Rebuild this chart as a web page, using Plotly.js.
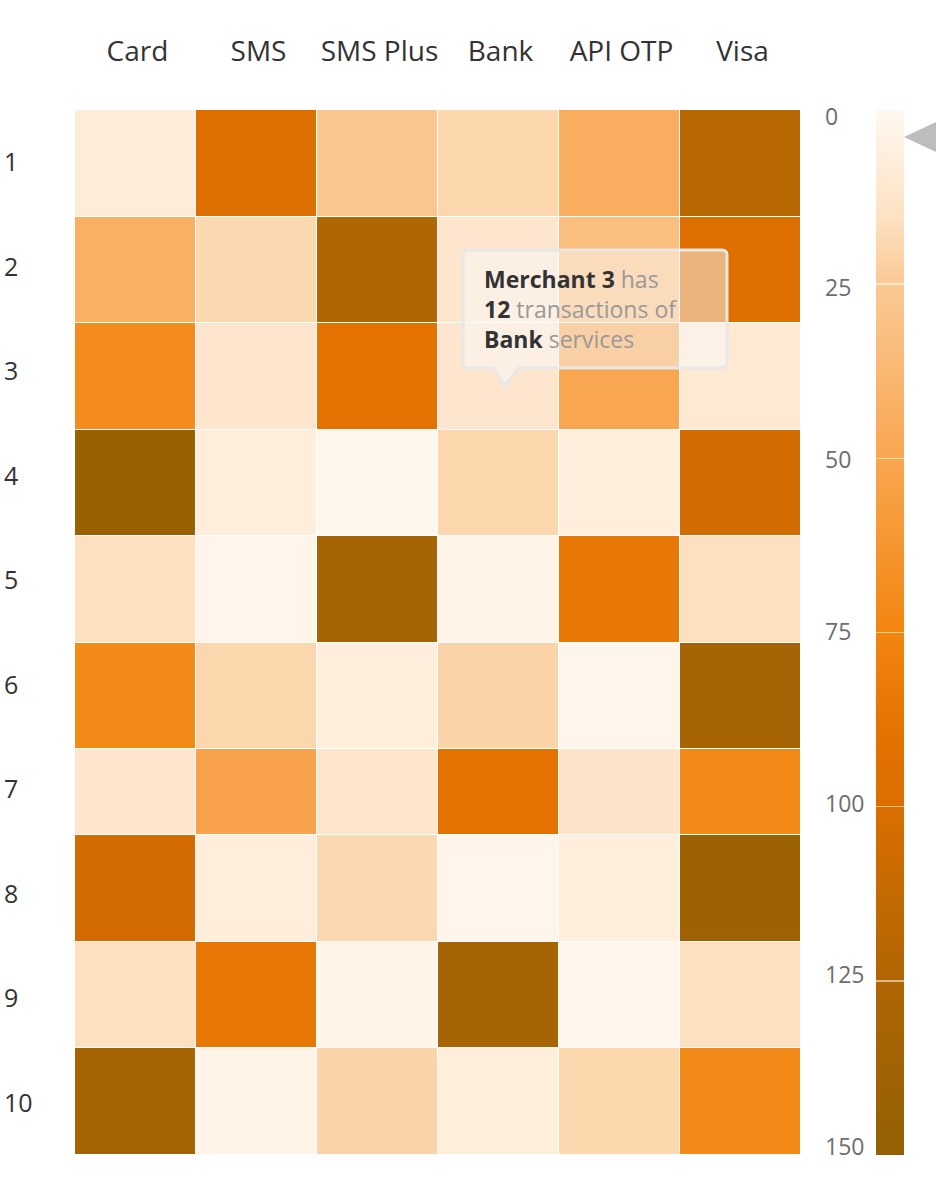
<!DOCTYPE html>
<html>
<head>
<meta charset="utf-8">
<script src="https://cdn.plot.ly/plotly-3.0.1.min.js"></script>
<style>
html,body{margin:0;padding:0;background:#fff;}
#chart{width:936px;height:1178px;}
</style>
</head>
<body>
<div id="chart"></div>
<script>
// ---------- data ----------
const services = ['Card', 'SMS', 'SMS Plus', 'Bank', 'API OTP', 'Visa'];
const merchants = ['1', '2', '3', '4', '5', '6', '7', '8', '9', '10'];
const transactions = [
  [8,   97,  27,  20,  45,  120],
  [43,  19,  125, 12,  33,  98],
  [70,  12,  90,  12,  50,  10],
  [145, 7,   1,   20,  7,   105],
  [16,  2,   133, 3,   85,  16],
  [72,  20,  7,   21,  2,   133],
  [12,  52,  13,  90,  14,  72],
  [105, 7,   19,  2,   7,   140],
  [16,  85,  3,   133, 2,   16],
  [133, 3,   21,  7,   20,  72]
];
const colorTicks = [0, 25, 50, 75, 100, 125, 150];
const colorGridTicks = [25, 50, 75, 100, 125];
const colorMin = 0;
const colorMax = 150;
const hoverMerchant = '3';
const hoverService = 'Bank';
const markerValue = 3;

// ---------- layout geometry / style ----------
const W = 936, H = 1178;
const M = {l: 75, r: 135, t: 110, b: 23, autoexpand: false};
const plotW = W - M.l - M.r;
const paperX = px => (px - M.l) / plotW;
const rowWeights = [1, 1, 1, 1, 1, 1, 0.81, 1, 1, 1];
const wSum = rowWeights.reduce((a, b) => a + b, 0);
const yEdges = [-0.5];
rowWeights.forEach(w => yEdges.push(yEdges[yEdges.length - 1] + w * merchants.length / wSum));

const colorscale = [
  [0.0,   '#FFF8F0'],
  [0.1,   '#FDE2C4'],
  [0.1667,'#FAC995'],
  [0.3333,'#F9A650'],
  [0.5,   '#F2850F'],
  [0.6,   '#E37200'],
  [0.6667,'#DA6E00'],
  [0.8333,'#B06604'],
  [1.0,   '#946003']
];
// colour bar is drawn with low values at the top
const colorscaleFlipped = colorscale.map(([p, c]) => [1 - p, c]).reverse();

const FONT = '"Open Sans", "Noto Sans", sans-serif';

const mi = merchants.indexOf(hoverMerchant);
const si = services.indexOf(hoverService);
const hoverValue = transactions[mi][si];

const heat = {
  type: 'heatmap',
  z: transactions,
  x: services.map((_, i) => i),
  y: yEdges,
  zmin: colorMin,
  zmax: colorMax,
  colorscale: colorscale,
  showscale: false,
  xgap: 1,
  ygap: 1,
  hoverinfo: 'skip'
};

const colorAxisTrace = {
  type: 'scatter',
  x: colorTicks.map(() => 0),
  y: colorTicks,
  yaxis: 'y2',
  mode: 'markers',
  marker: {
    opacity: 0, size: 1,
    color: colorTicks,
    cmin: colorMin, cmax: colorMax,
    colorscale: colorscaleFlipped,
    showscale: true,
    colorbar: {
      thickness: 28, thicknessmode: 'pixels',
      len: 1, lenmode: 'fraction',
      y: 0.5, yanchor: 'middle', ypad: 0,
      x: paperX(876), xanchor: 'left', xpad: 0,
      outlinewidth: 0, borderwidth: 0,
      tickmode: 'array', tickvals: colorGridTicks,
      ticks: 'inside', ticklen: 28, tickwidth: 1.5,
      tickcolor: 'rgba(255,255,255,0.55)',
      showticklabels: false
    }
  },
  hoverinfo: 'skip',
  showlegend: false
};

const tooltipText =
  '<b>Merchant ' + hoverMerchant + '</b><span style="color:#999999"> has</span><br>' +
  '<b>' + hoverValue + '</b><span style="color:#999999"> transactions of</span><br>' +
  '<b>' + hoverService + '</b><span style="color:#999999"> services</span>';

const layout = {
  width: W, height: H,
  margin: M,
  paper_bgcolor: '#ffffff',
  plot_bgcolor: '#ffffff',
  font: {family: FONT, color: '#333333'},
  showlegend: false,
  xaxis: {
    side: 'top',
    range: [-0.5, services.length - 0.5],
    tickmode: 'array',
    tickvals: services.map((_, i) => i),
    ticktext: services,
    ticks: '',
    showgrid: false, zeroline: false, showline: false,
    tickfont: {family: FONT, size: 28, color: '#333333'},
    ticklabelstandoff: 42,
    ticklabelshift: 2,
    fixedrange: true
  },
  yaxis: {
    range: [merchants.length - 0.5, -0.5],
    tickmode: 'array',
    tickvals: merchants.map((_, i) => i),
    ticktext: merchants,
    ticks: '',
    showgrid: false, zeroline: false, showline: false,
    ticklabelposition: 'inside',
    ticklabelstandoff: -74,
    tickfont: {family: FONT, size: 25, color: '#333333'},
    fixedrange: true
  },
  yaxis2: {
    overlaying: 'y',
    anchor: 'x',
    side: 'right',
    range: [151.165, -0.946],
    tickmode: 'array',
    tickvals: colorTicks,
    ticks: '',
    showgrid: false, zeroline: false, showline: false,
    tickfont: {family: FONT, size: 23, color: '#6e6e6e'},
    ticklabelstandoff: 23,
    fixedrange: true
  },
  shapes: [
    {
      type: 'path', layer: 'above',
      xref: 'x', yref: 'y',
      xsizemode: 'pixel', xanchor: si,
      ysizemode: 'pixel', yanchor: mi,
      path: 'M -30.5,3.25 L -5.5,3.25 L 6.5,-14.75 L 19.5,3.25 L 223.5,3.25 Q 228.5,3.25 228.5,8.25 L 228.5,116.25 Q 228.5,121.25 223.5,121.25 L -30.5,121.25 Q -35.5,121.25 -35.5,116.25 L -35.5,8.25 Q -35.5,3.25 -30.5,3.25 Z',
      fillcolor: 'rgba(250,250,250,0.5)',
      line: {color: '#e8e8e8', width: 3}
    },
    {
      type: 'path', layer: 'above',
      xref: 'paper', yref: 'y2',
      ysizemode: 'pixel', yanchor: markerValue,
      path: 'M ' + paperX(904) + ',0 L ' + paperX(936) + ',15 L ' + paperX(936) + ',-15 Z',
      fillcolor: '#bdbdbd',
      line: {width: 0}
    }
  ],
  annotations: [
    {
      xref: 'x', yref: 'y', x: si, y: mi,
      xanchor: 'left', yanchor: 'top',
      xshift: -16, yshift: 109,
      showarrow: false, align: 'left',
      borderpad: 0,
      text: tooltipText,
      font: {family: FONT, size: 23, color: '#333333'}
    }
  ]
};

Plotly.newPlot('chart', [heat, colorAxisTrace], layout, {displayModeBar: false, staticPlot: true});
</script>
</body>
</html>
